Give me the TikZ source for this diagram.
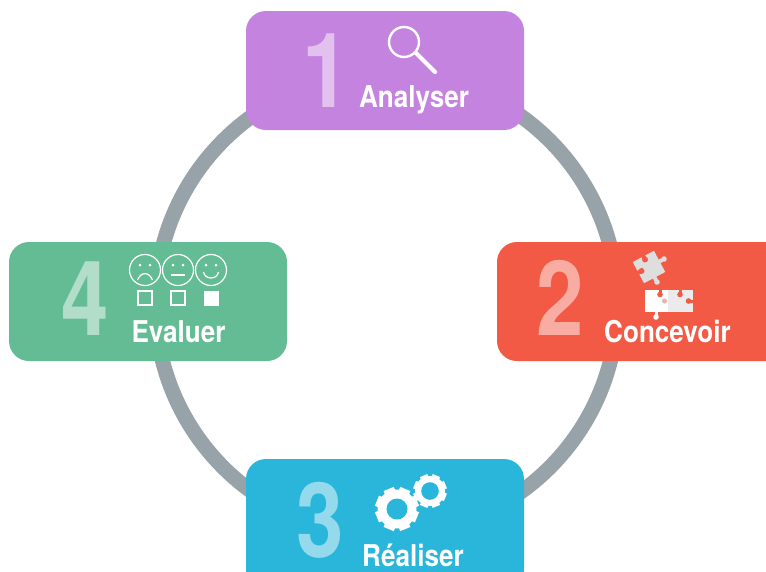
\documentclass[tikz,border=0pt]{standalone}
\usepackage{fontspec}
\setmainfont{TeX Gyre Heros}
\definecolor{ringc}{HTML}{97A3A8}
\definecolor{purp}{HTML}{C583E0}
\definecolor{redc}{HTML}{F25A46}
\definecolor{greenc}{HTML}{64BC94}
\definecolor{bluec}{HTML}{29B6DA}
\definecolor{pz}{HTML}{DEDEDE}
\definecolor{pzb}{HTML}{EBEBEB}
\newcommand{\narrowed}[1]{\scalebox{.87}[1]{#1}}
\newcommand{\narrowdigit}[1]{\scalebox{.82}[1]{#1}}
\tikzset{
  card/.style={rounded corners=20pt},
  digit/.style={anchor=base,inner sep=0,text=white,text opacity=.5,font=\fontsize{104}{104}\selectfont\bfseries},
  lab/.style={anchor=base,inner sep=0,text=white,font=\fontsize{30}{30}\selectfont\bfseries},
  face/.style={draw=white,line width=1.2pt},
  tick/.style={draw=white,line width=1.1pt}
}
\begin{document}
\begin{tikzpicture}[x=1pt,y=-1pt]
\useasboundingbox (0,0) rectangle (766,571);
\clip (0,0) rectangle (766,571);
\fill[white] (0,0) rectangle (766,571);
\draw[ringc,line width=15pt] (386.5,304) circle[radius=231];
% cards
\fill[purp,card] (246,11) rectangle (524,130);
\fill[redc,card] (497,242) rectangle (790,361);
\fill[greenc,card] (9,242) rectangle (287,361);
\fill[bluec,card] (246,459) rectangle (524,590);
% digits and labels
\node[digit] (d1) at (326,107) {\narrowdigit{1}};
\node[digit] (d2) at (560,335) {\narrowdigit{2}};
\node[digit] (d3) at (320.5,557) {\narrowdigit{3}};
\node[digit] (d4) at (85,335) {\narrowdigit{4}};
\node[lab] (l1) at (414,107) {\narrowed{Analyser}};
\node[lab] (l2) at (667.5,342) {\narrowed{Concevoir}};
\node[lab] (l3) at (413,566) {\narrowed{Réaliser}};
\node[lab] (l4) at (178.5,342) {\narrowed{Evaluer}};
% magnifier
\draw[white,line width=2.4pt] (404,42) circle[radius=15];
\draw[white,line width=4.2pt,line cap=round] (416,53) -- (435,72);
% puzzle top
\begin{scope}[shift={(649,267)},rotate=28]
  \fill[pz] (-12,-12) rectangle (12,12);
  \fill[pz] (11,-2) rectangle (15,2);
  \fill[pz] (17,0) circle[radius=2.8];
  \fill[pz] (-2,11) rectangle (2,15);
  \fill[pz] (0,17) circle[radius=2.8];
  \fill[redc] (-2,-13) rectangle (2,-10);
  \fill[redc] (0,-8.5) circle[radius=3];
  \fill[redc] (-13,-2) rectangle (-10,2);
  \fill[redc] (-8.5,0) circle[radius=3];
\end{scope}
% puzzle bottom
\fill[white] (645,290) rectangle (668,312);
\fill[pzb] (668,290) rectangle (693,312);
\fill[white] (654.5,311) rectangle (657.5,315);
\fill[white] (656,317) circle[radius=2.8];
\fill[redc] (658.5,289) rectangle (661.5,293);
\fill[redc] (660,294.5) circle[radius=2.8];
\fill[redc] (678.5,289) rectangle (681.5,293);
\fill[redc] (680,294.5) circle[radius=2.8];
\fill[redc] (690,299.5) rectangle (694,302.5);
\fill[redc] (688.5,301) circle[radius=2.8];
\fill[pz!70!redc] (664.5,301) circle[radius=2.6];
% gears
\begin{scope}[shift={(397,509)}]
  \fill[white] (0,0) circle[radius=19.5];
  \foreach \a in {0,45,...,315}
    \fill[white,rotate=\a+22.5] (15,-5.5) rectangle (21.7,5.5);
  \fill[bluec] (0,0) circle[radius=10.5];
\end{scope}
\begin{scope}[shift={(430,491)}]
  \fill[white] (0,0) circle[radius=15];
  \foreach \a in {0,45,...,315}
    \fill[white,rotate=\a+22.5] (12,-4) rectangle (16.7,4);
  \fill[bluec] (0,0) circle[radius=8.8];
\end{scope}
% faces
\foreach \x in {145,178,211} \draw[face] (\x,270) circle[radius=15.5];
\fill[white] (140,265) circle[radius=1.5] (150,265) circle[radius=1.5];
\fill[white] (173,265) circle[radius=1.5] (183,265) circle[radius=1.5];
\fill[white] (206,265) circle[radius=1.5] (216,265) circle[radius=1.5];
\draw[face] (137.5,280) .. controls (141,271.5) and (149,271.5) .. (152.5,280);
\draw[face] (171,275) -- (185,275);
\draw[face] (203.5,272) .. controls (205,280) and (217,280) .. (218.5,272);
% boxes
\draw[tick] (138,291) rectangle (152,305);
\draw[tick] (171,291) rectangle (185,305);
\fill[white] (203.5,290.5) rectangle (219,306);
\end{tikzpicture}
\end{document}
